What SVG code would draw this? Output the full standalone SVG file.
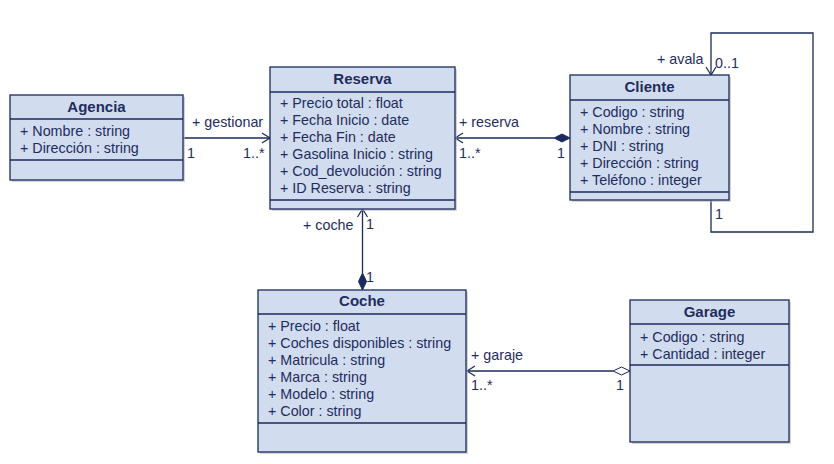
<svg xmlns="http://www.w3.org/2000/svg" width="834" height="464" viewBox="0 0 834 464">
<defs>
<style>
.box{fill:#d1dcef;stroke:#1b2a5c;stroke-width:1.3}
.sh{fill:#b8b8b8;opacity:0.6}
.ln{stroke:#1b2a5c;stroke-width:1.3;fill:none}
.t{font-family:"Liberation Sans",Arial,sans-serif;font-size:14.3px;fill:#1f2d5e}
.b{font-family:"Liberation Sans",Arial,sans-serif;font-size:15px;font-weight:bold;fill:#1f2d5e;text-anchor:middle}
.c{stroke:#1b2a5c;stroke-width:1.3;fill:none}
.arr{stroke:#1b2a5c;stroke-width:1.2;fill:none}
.fd{fill:#1b2a5c;stroke:#1b2a5c;stroke-width:1}
.hd{fill:#ffffff;stroke:#1b2a5c;stroke-width:1}
</style>
</defs>
<rect width="834" height="464" fill="#ffffff"/>

<g id="connectors">
  <!-- Agencia - Reserva -->
  <line class="c" x1="183" y1="138" x2="270" y2="138"/>
  <polyline class="arr" points="262,133 270,138 262,143"/>
  <text class="t" x="192" y="127">+ gestionar</text>
  <text class="t" x="187" y="158">1</text>
  <text class="t" x="243" y="158">1..*</text>
  <!-- Reserva - Cliente -->
  <line class="c" x1="455" y1="138" x2="554" y2="138"/>
  <polyline class="arr" points="463,133 455,138 463,143"/>
  <polygon class="fd" points="570,138 562,134 554,138 562,142"/>
  <text class="t" x="459" y="127">+ reserva</text>
  <text class="t" x="459" y="158">1..*</text>
  <text class="t" x="557" y="158">1</text>
  <!-- Reserva - Coche -->
  <line class="c" x1="362.5" y1="209" x2="362.5" y2="273"/>
  <polyline class="arr" points="357.5,217 362.5,209 367.5,217"/>
  <polygon class="fd" points="362.5,290 358.5,281.5 362.5,273 366.5,281.5"/>
  <text class="t" x="303" y="230">+ coche</text>
  <text class="t" x="366" y="229">1</text>
  <text class="t" x="366" y="282">1</text>
  <!-- Coche - Garage -->
  <line class="c" x1="467" y1="371" x2="613" y2="371"/>
  <polyline class="arr" points="475,366 467,371 475,376"/>
  <polygon class="hd" points="630,371 621.5,367 613,371 621.5,375"/>
  <text class="t" x="471" y="360">+ garaje</text>
  <text class="t" x="471" y="390">1..*</text>
  <text class="t" x="616" y="390">1</text>
  <!-- Cliente self loop -->
  <polyline class="c" points="711,200 711,232 813,232 813,33 711,33 711,75"/>
  <polyline class="arr" points="706,67 711,75 716,67"/>
  <text class="t" x="657" y="64">+ avala</text>
  <text class="t" x="715" y="68">0..1</text>
  <text class="t" x="715" y="219">1</text>
</g>

<g id="agencia">
  <rect class="sh" x="12" y="97" width="173" height="85"/>
  <rect class="box" x="10" y="95" width="173" height="85"/>
  <line class="ln" x1="10" y1="119" x2="183" y2="119"/>
  <line class="ln" x1="10" y1="160" x2="183" y2="160"/>
  <text class="b" x="96.5" y="112">Agencia</text>
  <text class="t" x="20" y="136">+ Nombre : string</text>
  <text class="t" x="20" y="153">+ Dirección : string</text>
</g>

<g id="reserva">
  <rect class="sh" x="272" y="69" width="185" height="142"/>
  <rect class="box" x="270" y="67" width="185" height="142"/>
  <line class="ln" x1="270" y1="92" x2="455" y2="92"/>
  <line class="ln" x1="270" y1="200" x2="455" y2="200"/>
  <text class="b" x="362.5" y="84">Reserva</text>
  <text class="t" x="280" y="108">+ Precio total : float</text>
  <text class="t" x="280" y="125">+ Fecha Inicio : date</text>
  <text class="t" x="280" y="142">+ Fecha Fin : date</text>
  <text class="t" x="280" y="159">+ Gasolina Inicio : string</text>
  <text class="t" x="280" y="176">+ Cod_devolución : string</text>
  <text class="t" x="280" y="193">+ ID Reserva : string</text>
</g>

<g id="cliente">
  <rect class="sh" x="572" y="77" width="159" height="125"/>
  <rect class="box" x="570" y="75" width="159" height="125"/>
  <line class="ln" x1="570" y1="100" x2="729" y2="100"/>
  <line class="ln" x1="570" y1="192" x2="729" y2="192"/>
  <text class="b" x="649.5" y="92">Cliente</text>
  <text class="t" x="580" y="117">+ Codigo : string</text>
  <text class="t" x="580" y="134">+ Nombre : string</text>
  <text class="t" x="580" y="151">+ DNI : string</text>
  <text class="t" x="580" y="168">+ Dirección : string</text>
  <text class="t" x="580" y="185">+ Teléfono : integer</text>
</g>

<g id="coche">
  <rect class="sh" x="260" y="292" width="208" height="162"/>
  <rect class="box" x="258" y="290" width="208" height="162"/>
  <line class="ln" x1="258" y1="314" x2="466" y2="314"/>
  <line class="ln" x1="258" y1="423" x2="466" y2="423"/>
  <text class="b" x="362" y="306">Coche</text>
  <text class="t" x="268" y="331">+ Precio : float</text>
  <text class="t" x="268" y="348">+ Coches disponibles : string</text>
  <text class="t" x="268" y="365">+ Matricula : string</text>
  <text class="t" x="268" y="382">+ Marca : string</text>
  <text class="t" x="268" y="399">+ Modelo : string</text>
  <text class="t" x="268" y="416">+ Color : string</text>
</g>

<g id="garage">
  <rect class="sh" x="632" y="302" width="159" height="142"/>
  <rect class="box" x="630" y="300" width="159" height="142"/>
  <line class="ln" x1="630" y1="324" x2="789" y2="324"/>
  <line class="ln" x1="630" y1="365" x2="789" y2="365"/>
  <text class="b" x="709.5" y="317">Garage</text>
  <text class="t" x="640" y="342">+ Codigo : string</text>
  <text class="t" x="640" y="359">+ Cantidad : integer</text>
</g>
</svg>
